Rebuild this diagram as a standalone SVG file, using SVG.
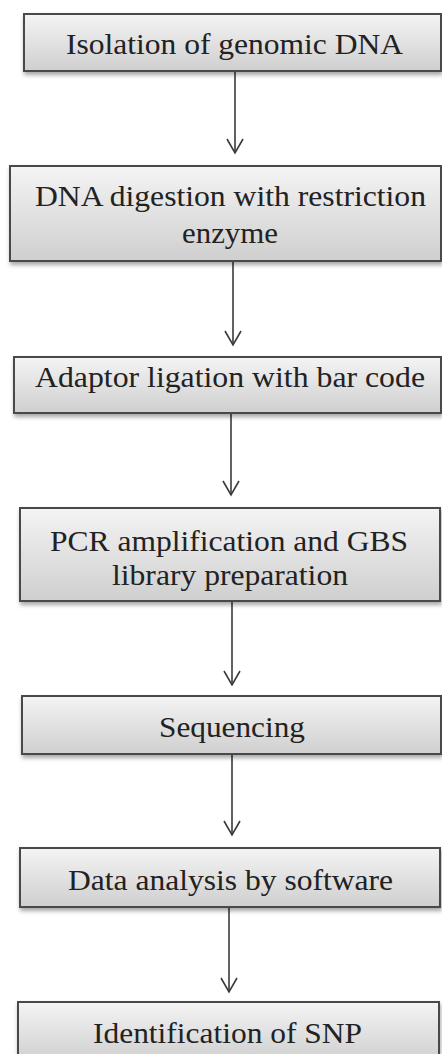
<svg xmlns="http://www.w3.org/2000/svg" width="442" height="1054" viewBox="0 0 442 1054">
<defs>
<linearGradient id="g" x1="0" y1="0" x2="0" y2="1">
<stop offset="0" stop-color="#f4f4f4"/>
<stop offset="1" stop-color="#cfcfcf"/>
</linearGradient>
<filter id="sh" x="-5%" y="-20%" width="110%" height="150%">
<feDropShadow dx="1" dy="3" stdDeviation="2" flood-color="#000" flood-opacity="0.35"/>
</filter>
<marker id="ah" markerUnits="userSpaceOnUse" markerWidth="20" markerHeight="20" refX="17" refY="10" orient="auto" viewBox="0 0 20 20">
<path d="M3 2 L17 10 L3 18" fill="none" stroke="#3a3a3a" stroke-width="1.6"/>
</marker>
</defs>
<style>
.box{fill:url(#g);stroke:#4a4a4a;stroke-width:2;filter:url(#sh)}
.t{font-family:'Liberation Serif','DejaVu Serif','Times New Roman',serif;font-size:30px;fill:#222;text-anchor:middle}
.c{stroke:#3a3a3a;stroke-width:1.6;fill:none}
</style>
<rect width="442" height="1054" fill="#fff"/>
<g id="connectors">
<path class="c" d="M235 71 V153" marker-end="url(#ah)"/>
<path class="c" d="M233 262 V345" marker-end="url(#ah)"/>
<path class="c" d="M231 413 V495" marker-end="url(#ah)"/>
<path class="c" d="M232 601 V685" marker-end="url(#ah)"/>
<path class="c" d="M232 754 V835" marker-end="url(#ah)"/>
<path class="c" d="M229 907 V992" marker-end="url(#ah)"/>
</g>
<g id="n1"><rect class="box" x="24" y="14" width="417" height="57"/><text class="t" x="234.5" y="54" textLength="337" lengthAdjust="spacingAndGlyphs">Isolation of genomic DNA</text></g>
<g id="n2"><rect class="box" x="10" y="166" width="431" height="95"/><text class="t" x="230.5" y="206" textLength="391" lengthAdjust="spacingAndGlyphs">DNA digestion with restriction</text><text class="t" x="230" y="243" textLength="96" lengthAdjust="spacingAndGlyphs">enzyme</text></g>
<g id="n3"><rect class="box" x="14" y="357" width="427" height="56"/><text class="t" x="230" y="387" textLength="390" lengthAdjust="spacingAndGlyphs">Adaptor ligation with bar code</text></g>
<g id="n4"><rect class="box" x="20" y="508" width="420" height="93"/><text class="t" x="229" y="551" textLength="358" lengthAdjust="spacingAndGlyphs">PCR amplification and GBS</text><text class="t" x="230" y="585" textLength="236" lengthAdjust="spacingAndGlyphs">library preparation</text></g>
<g id="n5"><rect class="box" x="22" y="696" width="419" height="58"/><text class="t" x="232" y="737" textLength="146" lengthAdjust="spacingAndGlyphs">Sequencing</text></g>
<g id="n6"><rect class="box" x="20" y="848" width="420" height="59"/><text class="t" x="230.5" y="890" textLength="325" lengthAdjust="spacingAndGlyphs">Data analysis by software</text></g>
<g id="n7"><rect class="box" x="18" y="1002" width="421" height="60"/><text class="t" x="227.5" y="1043" textLength="269" lengthAdjust="spacingAndGlyphs">Identification of SNP</text></g>
</svg>
